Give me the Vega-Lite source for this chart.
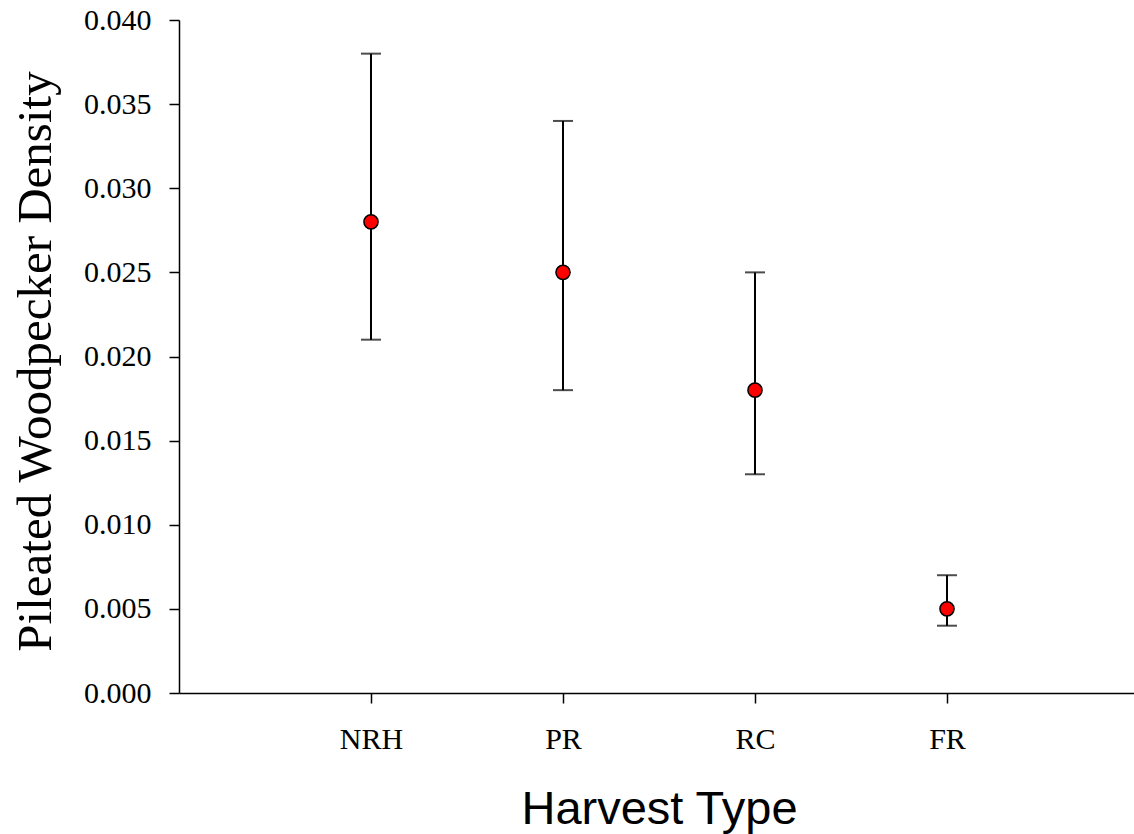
{
  "$schema": "https://vega.github.io/schema/vega-lite/v6.json",
  "autosize": {"type": "none"},
  "padding": {"left": 179, "top": 20, "right": 0, "bottom": 141},
  "width": 960,
  "height": 673,
  "background": "white",
  "config": {
    "view": {"stroke": null},
    "axis": {
      "grid": false,
      "domainColor": "black",
      "domainWidth": 1.5,
      "tickColor": "black",
      "tickWidth": 1.5,
      "tickSize": 10,
      "labelFont": "Liberation Serif",
      "labelFontSize": 30,
      "labelColor": "black",
      "titleColor": "black",
      "titleFontWeight": "normal"
    }
  },
  "data": {
    "values": [
      {"harvest": "NRH", "density": 0.028, "lower": 0.021, "upper": 0.038},
      {"harvest": "PR", "density": 0.025, "lower": 0.018, "upper": 0.034},
      {"harvest": "RC", "density": 0.018, "lower": 0.013, "upper": 0.025},
      {"harvest": "FR", "density": 0.005, "lower": 0.004, "upper": 0.007}
    ]
  },
  "encoding": {
    "x": {
      "field": "harvest",
      "type": "nominal",
      "sort": ["NRH", "PR", "RC", "FR"],
      "scale": {"type": "point", "padding": 1},
      "axis": {
        "title": "Harvest Type",
        "titleFont": "Liberation Sans",
        "titleFontSize": 47,
        "titleX": 480,
        "titleY": 130,
        "titleAlign": "center",
        "titleBaseline": "alphabetic",
        "labelAngle": 0,
        "labelPadding": 21
      }
    }
  },
  "layer": [
    {
      "mark": {"type": "rule", "color": "black", "strokeWidth": 2},
      "encoding": {
        "y": {"field": "lower", "type": "quantitative"},
        "y2": {"field": "upper"}
      }
    },
    {
      "mark": {"type": "tick", "color": "black", "size": 20, "thickness": 2},
      "encoding": {"y": {"field": "upper", "type": "quantitative"}}
    },
    {
      "mark": {"type": "tick", "color": "black", "size": 20, "thickness": 2},
      "encoding": {"y": {"field": "lower", "type": "quantitative"}}
    },
    {
      "mark": {"type": "point", "filled": true, "fill": "#ff0000", "stroke": "black", "strokeWidth": 1.5, "size": 200, "opacity": 1},
      "encoding": {
        "y": {
          "field": "density",
          "type": "quantitative",
          "scale": {"domain": [0, 0.04], "nice": false},
          "axis": {
            "title": "Pileated Woodpecker Density",
            "titleFont": "Liberation Serif",
            "titleFontSize": 49,
            "titleX": -144,
            "titleY": 341,
            "titleAngle": -90,
            "titleAlign": "center",
            "titleBaseline": "middle",
            "values": [0, 0.005, 0.01, 0.015, 0.02, 0.025, 0.03, 0.035, 0.04],
            "format": ".3f",
            "labelPadding": 18
          }
        }
      }
    }
  ]
}
